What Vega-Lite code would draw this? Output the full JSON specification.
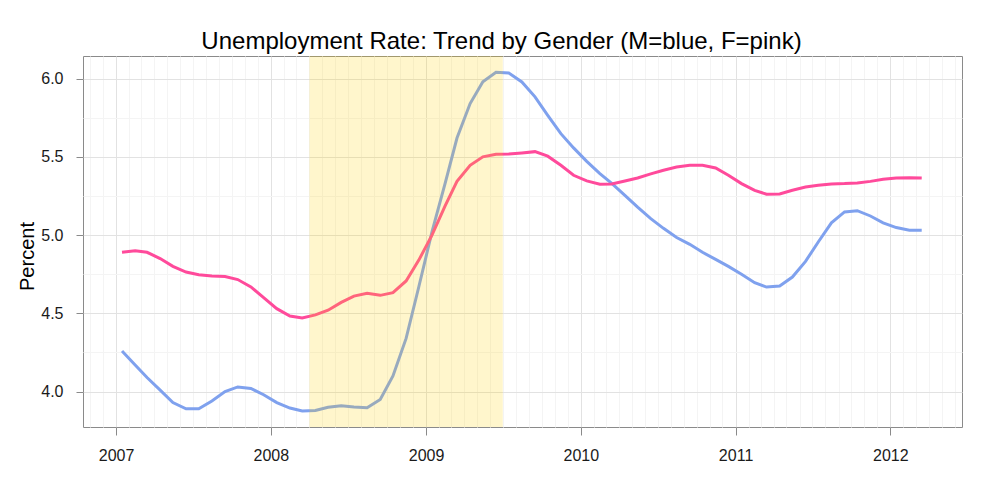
{
  "$schema": "https://vega.github.io/schema/vega-lite/v6.json",
  "width": 879,
  "height": 371,
  "autosize": {"type": "none"},
  "padding": {"left": 83, "top": 56, "right": 38, "bottom": 73},
  "background": "white",
  "title": {
    "text": "Unemployment Rate: Trend by Gender (M=blue, F=pink)",
    "font": "Liberation Sans",
    "fontSize": 24,
    "fontWeight": "normal",
    "color": "#000000",
    "anchor": "middle",
    "baseline": "alphabetic",
    "offset": 6,
    "dx": -21,
    "dy": 23
  },
  "config": {
    "view": {"stroke": "#8a8a8a", "strokeWidth": 1},
    "font": "Liberation Sans"
  },
  "datasets": {
    "rates": [
      {"date": "2007-01-15", "M": 4.26, "F": 4.89},
      {"date": "2007-02-15", "M": 4.17, "F": 4.90},
      {"date": "2007-03-15", "M": 4.09, "F": 4.89},
      {"date": "2007-04-15", "M": 4.01, "F": 4.85},
      {"date": "2007-05-15", "M": 3.93, "F": 4.80},
      {"date": "2007-06-15", "M": 3.89, "F": 4.764},
      {"date": "2007-07-15", "M": 3.89, "F": 4.747},
      {"date": "2007-08-15", "M": 3.94, "F": 4.739},
      {"date": "2007-09-15", "M": 4.00, "F": 4.735},
      {"date": "2007-10-15", "M": 4.03, "F": 4.716},
      {"date": "2007-11-15", "M": 4.02, "F": 4.669},
      {"date": "2007-12-15", "M": 3.98, "F": 4.60},
      {"date": "2008-01-15", "M": 3.93, "F": 4.53},
      {"date": "2008-02-15", "M": 3.895, "F": 4.483},
      {"date": "2008-03-15", "M": 3.876, "F": 4.47},
      {"date": "2008-04-15", "M": 3.88, "F": 4.49},
      {"date": "2008-05-15", "M": 3.90, "F": 4.52},
      {"date": "2008-06-15", "M": 3.91, "F": 4.57},
      {"date": "2008-07-15", "M": 3.902, "F": 4.61},
      {"date": "2008-08-15", "M": 3.897, "F": 4.628},
      {"date": "2008-09-15", "M": 3.95, "F": 4.615},
      {"date": "2008-10-15", "M": 4.10, "F": 4.632},
      {"date": "2008-11-15", "M": 4.34, "F": 4.707},
      {"date": "2008-12-15", "M": 4.67, "F": 4.84},
      {"date": "2009-01-15", "M": 5.02, "F": 5.00},
      {"date": "2009-02-15", "M": 5.33, "F": 5.186},
      {"date": "2009-03-15", "M": 5.62, "F": 5.343},
      {"date": "2009-04-15", "M": 5.84, "F": 5.446},
      {"date": "2009-05-15", "M": 5.98, "F": 5.50},
      {"date": "2009-06-15", "M": 6.04, "F": 5.516},
      {"date": "2009-07-15", "M": 6.036, "F": 5.518},
      {"date": "2009-08-15", "M": 5.978, "F": 5.525},
      {"date": "2009-09-15", "M": 5.883, "F": 5.533},
      {"date": "2009-10-15", "M": 5.765, "F": 5.504},
      {"date": "2009-11-15", "M": 5.648, "F": 5.446},
      {"date": "2009-12-15", "M": 5.557, "F": 5.382},
      {"date": "2010-01-15", "M": 5.471, "F": 5.346},
      {"date": "2010-02-15", "M": 5.393, "F": 5.325},
      {"date": "2010-03-15", "M": 5.33, "F": 5.327},
      {"date": "2010-04-15", "M": 5.254, "F": 5.346},
      {"date": "2010-05-15", "M": 5.178, "F": 5.365},
      {"date": "2010-06-15", "M": 5.105, "F": 5.391},
      {"date": "2010-07-15", "M": 5.043, "F": 5.414},
      {"date": "2010-08-15", "M": 4.984, "F": 5.435},
      {"date": "2010-09-15", "M": 4.941, "F": 5.446},
      {"date": "2010-10-15", "M": 4.89, "F": 5.446},
      {"date": "2010-11-15", "M": 4.845, "F": 5.429},
      {"date": "2010-12-15", "M": 4.80, "F": 5.382},
      {"date": "2011-01-15", "M": 4.75, "F": 5.329},
      {"date": "2011-02-15", "M": 4.696, "F": 5.286},
      {"date": "2011-03-15", "M": 4.668, "F": 5.261},
      {"date": "2011-04-15", "M": 4.675, "F": 5.263},
      {"date": "2011-05-15", "M": 4.732, "F": 5.286},
      {"date": "2011-06-15", "M": 4.832, "F": 5.307},
      {"date": "2011-07-15", "M": 4.956, "F": 5.318},
      {"date": "2011-08-15", "M": 5.078, "F": 5.327},
      {"date": "2011-09-15", "M": 5.148, "F": 5.329},
      {"date": "2011-10-15", "M": 5.156, "F": 5.333},
      {"date": "2011-11-15", "M": 5.122, "F": 5.343},
      {"date": "2011-12-15", "M": 5.078, "F": 5.356},
      {"date": "2012-01-15", "M": 5.048, "F": 5.365},
      {"date": "2012-02-15", "M": 5.031, "F": 5.367},
      {"date": "2012-03-15", "M": 5.031, "F": 5.365}
    ],
    "shade": [
      {"start": "2008-04-01", "end": "2009-07-01"}
    ]
  },
  "layer": [
    {
      "data": {"name": "rates"},
      "transform": [{"fold": ["M", "F"], "as": ["sex", "rate"]}],
      "mark": {"type": "line", "strokeWidth": 3},
      "encoding": {
        "x": {
          "field": "date",
          "type": "temporal",
          "scale": {
            "type": "utc",
            "domain": [
              {"year": 2006, "month": 10, "date": 15, "utc": true},
              {"year": 2012, "month": 6, "date": 18, "utc": true}
            ]
          },
          "axis": {
            "title": null,
            "tickCount": {"interval": "month", "step": 1},
            "grid": true,
            "gridColor": {"condition": {"test": "utcmonth(datum.value) == 0", "value": "#e2e2e2"}, "value": "#f4f4f4"},
            "gridWidth": 1,
            "domain": false,
            "tickSize": 8,
            "tickColor": {"condition": {"test": "utcmonth(datum.value) == 0", "value": "#8a8a8a"}, "value": "transparent"},
            "labelExpr": "utcmonth(datum.value) == 0 ? utcFormat(datum.value, '%Y') : ''",
            "labelOverlap": false,
            "labelFlush": false,
            "labelFont": "Liberation Sans",
            "labelFontSize": 16,
            "labelColor": "#1a1a1a",
            "labelPadding": 12
          }
        },
        "y": {
          "field": "rate",
          "type": "quantitative",
          "scale": {"domain": [3.774, 6.144], "nice": false, "zero": false},
          "axis": {
            "title": "Percent",
            "titleFont": "Liberation Sans",
            "titleFontSize": 20,
            "titleFontWeight": "normal",
            "titleColor": "#000000",
            "titleAngle": -90,
            "titleAlign": "center",
            "titleBaseline": "alphabetic",
            "titleX": -50,
            "titleY": 200,
            "values": [4, 4.25, 4.5, 4.75, 5, 5.25, 5.5, 5.75, 6],
            "grid": true,
            "gridColor": {"condition": {"test": "datum.value % 0.5 == 0", "value": "#e2e2e2"}, "value": "#f4f4f4"},
            "gridWidth": 1,
            "domain": false,
            "tickSize": 7,
            "tickColor": {"condition": {"test": "datum.value % 0.5 == 0", "value": "#8a8a8a"}, "value": "transparent"},
            "labelExpr": "datum.value % 0.5 == 0 ? format(datum.value, '.1f') : ''",
            "labelOverlap": false,
            "labelFont": "Liberation Sans",
            "labelFontSize": 16,
            "labelColor": "#1a1a1a",
            "labelPadding": 13
          }
        },
        "color": {
          "field": "sex",
          "type": "nominal",
          "scale": {"domain": ["M", "F"], "range": ["#7fa1ee", "#ff4a9b"]},
          "legend": null
        }
      }
    },
    {
      "data": {"name": "shade"},
      "mark": {"type": "rect", "color": "#ffd400", "opacity": 0.2},
      "encoding": {
        "x": {"field": "start", "type": "temporal"},
        "x2": {"field": "end"}
      }
    }
  ]
}
